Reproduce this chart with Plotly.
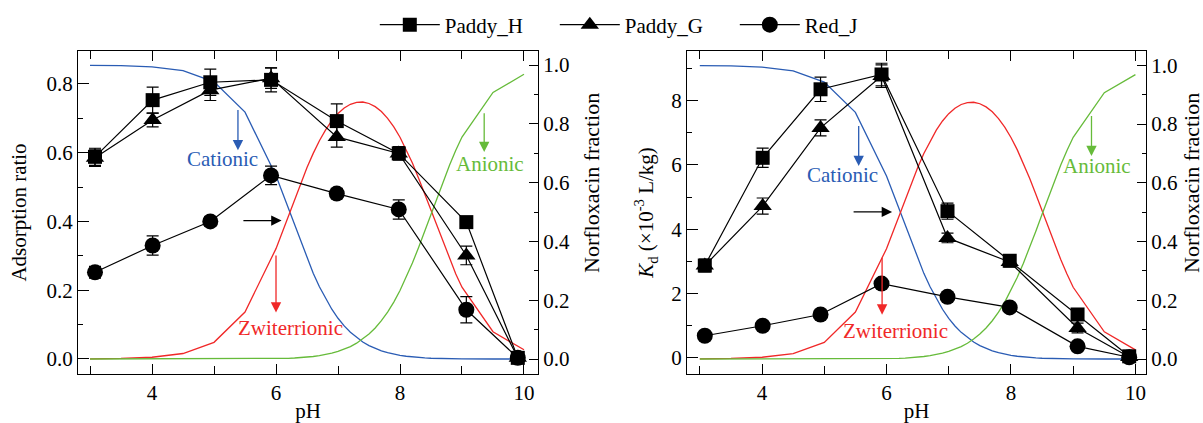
import plotly.graph_objects as go

# ---------------- data ----------------
ph_exp = [3.08, 4.01, 4.94, 5.92, 6.98, 7.98, 9.07, 9.90]

ads_paddy_h = [0.588, 0.753, 0.805, 0.812, 0.692, 0.598, 0.398, 0.003]
ads_paddy_h_err = [0.025, 0.038, 0.038, 0.035, 0.05, 0.015, 0.015, 0.01]
ads_paddy_g = [0.585, 0.695, 0.782, 0.817, 0.646, 0.598, 0.301, 0.003]
ads_paddy_g_err = [0.025, 0.02, 0.03, 0.03, 0.03, 0.02, 0.027, 0.01]
ads_red_j = [0.252, 0.330, 0.400, 0.534, 0.481, 0.435, 0.143, 0.003]
ads_red_j_err = [0.017, 0.028, 0.014, 0.027, 0.015, 0.028, 0.038, 0.01]

kd_paddy_h = [2.87, 6.22, 8.35, 8.81, 4.56, 3.02, 1.35, 0.05]
kd_paddy_h_err = [0.15, 0.3, 0.38, 0.35, 0.25, 0.15, 0.15, 0.05]
kd_paddy_g = [2.87, 4.72, 7.15, 8.76, 3.73, 2.98, 0.93, 0.03]
kd_paddy_g_err = [0.2, 0.25, 0.25, 0.35, 0.15, 0.15, 0.15, 0.05]
kd_red_j = [0.69, 1.00, 1.35, 2.31, 1.90, 1.57, 0.36, 0.02]
kd_red_j_err = [0.05, 0.05, 0.05, 0.1, 0.05, 0.05, 0.05, 0.03]

ph_frac = [3.0, 3.5, 4.0, 4.5, 5.0, 5.5,
           6.0, 6.1, 6.2, 6.3, 6.4, 6.5, 6.6, 6.7, 6.8, 6.9,
           7.0, 7.1, 7.2, 7.3, 7.4, 7.5, 7.6, 7.7, 7.8, 7.9,
           8.0, 8.1, 8.2, 8.3, 8.4, 8.5, 8.6, 8.7, 8.8, 8.9,
           9.0, 9.5, 10.0]
frac_cationic = [0.9994, 0.9981, 0.9940, 0.9813, 0.9432, 0.8400,
                 0.6233, 0.5677, 0.5103, 0.4526, 0.3960, 0.3420, 0.2917, 0.2459, 0.2051, 0.1694,
                 0.1387, 0.1126, 0.0908, 0.0727, 0.0578, 0.0456, 0.0358, 0.0279, 0.0215, 0.0165,
                 0.0125, 0.0094, 0.0070, 0.0051, 0.0037, 0.0026, 0.0019, 0.0013, 0.0009, 0.0006,
                 0.0004, 0.0000, 0.0000]
frac_zwitterionic = [0.0006, 0.0019, 0.0060, 0.0187, 0.0568, 0.1600,
                     0.3756, 0.4306, 0.4873, 0.5441, 0.5994, 0.6516, 0.6997, 0.7426, 0.7797, 0.8107,
                     0.8355, 0.8542, 0.8668, 0.8735, 0.8744, 0.8694, 0.8586, 0.8418, 0.8188, 0.7897,
                     0.7544, 0.7131, 0.6666, 0.6154, 0.5609, 0.5044, 0.4475, 0.3918, 0.3387, 0.2893,
                     0.2444, 0.0928, 0.0313]
frac_anionic = [0.0, 0.0, 0.0, 0.0, 0.0, 0.0002,
                0.0012, 0.0017, 0.0024, 0.0034, 0.0047, 0.0064, 0.0086, 0.0115, 0.0152, 0.0199,
                0.0258, 0.0332, 0.0424, 0.0539, 0.0679, 0.0850, 0.1056, 0.1304, 0.1597, 0.1938,
                0.2331, 0.2774, 0.3265, 0.3795, 0.4354, 0.4929, 0.5506, 0.6069, 0.6604, 0.7101,
                0.7552, 0.9071, 0.9687]

series_names = ["Paddy_H", "Paddy_G", "Red_J"]

# ---------------- style ----------------
FONT = "'Liberation Serif', 'Times New Roman', Times, serif"
FS = 21
BLUE = "#2a5cb4"
RED = "#f02828"
GREEN = "#66bb3a"
symbols = ["square", "triangle-up", "circle"]
msizes = [14, 16, 16]

fig = go.Figure()

# fraction curves (base axes, drawn underneath)
for xr, yr in [("x", "y"), ("x2", "y3")]:
    for vals, col in [(frac_cationic, BLUE), (frac_zwitterionic, RED), (frac_anionic, GREEN)]:
        fig.add_trace(go.Scatter(x=ph_frac, y=vals, mode="lines", line=dict(color=col, width=1.3),
                                 xaxis=xr, yaxis=yr, showlegend=False, hoverinfo="skip"))

left_sets = [(ads_paddy_h, ads_paddy_h_err), (ads_paddy_g, ads_paddy_g_err), (ads_red_j, ads_red_j_err)]
right_sets = [(kd_paddy_h, kd_paddy_h_err), (kd_paddy_g, kd_paddy_g_err), (kd_red_j, kd_red_j_err)]

for i, (vals, err) in enumerate(left_sets):
    fig.add_trace(go.Scatter(
        x=ph_exp, y=vals, mode="lines+markers", name=series_names[i],
        line=dict(color="black", width=1.2),
        marker=dict(symbol=symbols[i], size=msizes[i], color="black"),
        error_y=dict(type="data", array=err, color="black", thickness=1.2, width=6),
        xaxis="x", yaxis="y2", showlegend=True))
for i, (vals, err) in enumerate(right_sets):
    fig.add_trace(go.Scatter(
        x=ph_exp, y=vals, mode="lines+markers", name=series_names[i],
        line=dict(color="black", width=1.2),
        marker=dict(symbol=symbols[i], size=msizes[i], color="black"),
        error_y=dict(type="data", array=err, color="black", thickness=1.2, width=6),
        xaxis="x2", yaxis="y4", showlegend=False))

tickfont = dict(family=FONT, size=FS, color="black")
common = dict(showline=True, linecolor="black", linewidth=1.3, ticks="inside", tickcolor="black",
              tickwidth=1.3, tickfont=tickfont, showgrid=False, zeroline=False, automargin=False)

yd_top = 1 - 51 / 423
yd_bot = 1 - 374 / 423

fig.update_layout(
    width=1203, height=423,
    margin=dict(l=0, r=0, t=0, b=0),
    paper_bgcolor="white", plot_bgcolor="white",
    font=dict(family=FONT, size=FS, color="black"),
    showlegend=True,
    legend=dict(orientation="h", x=0.536, xanchor="center", y=1 - 25 / 423, yanchor="middle",
                font=dict(family=FONT, size=FS, color="black"), itemwidth=60,
                entrywidth=105, bgcolor="rgba(0,0,0,0)", tracegroupgap=0),
    xaxis=dict(domain=[78 / 1203, 538 / 1203], range=[2.806, 10.226], dtick=2, tick0=0,
               ticklen=10, mirror="ticks", anchor="y",
               minor=dict(dtick=1, tick0=0, ticks="inside", ticklen=8, tickcolor="black", tickwidth=1.3),
               title=dict(text="pH", font=tickfont, standoff=11), **common),
    yaxis=dict(domain=[yd_bot, yd_top], range=[-0.051, 1.048], side="right", anchor="x",
               dtick=0.2, tick0=0, tickformat=".1f", ticklen=9,
               minor=dict(dtick=0.1, tick0=0, ticks="inside", ticklen=4, tickcolor="black", tickwidth=1.3),
               **common),
    yaxis2=dict(domain=[yd_bot, yd_top], range=[-0.044, 0.896], side="left", overlaying="y", anchor="x",
                dtick=0.2, tick0=0, tickformat=".1f", ticklen=11,
                minor=dict(dtick=0.1, tick0=0, ticks="inside", ticklen=5, tickcolor="black", tickwidth=1.3),
                title=dict(text="Adsorption ratio", font=tickfont, standoff=14), **common),
    xaxis2=dict(domain=[687 / 1203, 1146 / 1203], range=[2.794, 10.17], dtick=2, tick0=0,
                ticklen=10, mirror="ticks", anchor="y3",
                minor=dict(dtick=1, tick0=0, ticks="inside", ticklen=8, tickcolor="black", tickwidth=1.3),
                title=dict(text="pH", font=tickfont, standoff=11), **common),
    yaxis3=dict(domain=[yd_bot, yd_top], range=[-0.051, 1.049], side="right", anchor="x2",
                dtick=0.2, tick0=0, tickformat=".1f", ticklen=9,
                minor=dict(dtick=0.1, tick0=0, ticks="inside", ticklen=4, tickcolor="black", tickwidth=1.3),
                **common),
    yaxis4=dict(domain=[yd_bot, yd_top], range=[-0.5, 9.54], side="left", overlaying="y3", anchor="x2",
                dtick=2, tick0=0, ticklen=11,
                minor=dict(dtick=1, tick0=0, ticks="inside", ticklen=5, tickcolor="black", tickwidth=1.3),
                title=dict(text="<i>K</i><sub>d</sub> (×10<sup>-3</sup> L/kg)", font=tickfont, standoff=11),
                **common),
)

# right-hand axis titles
for xc in [591 / 1203, 1191 / 1203]:
    fig.add_annotation(x=xc, y=1 - 183 / 423, xref="paper", yref="paper", text="Norfloxacin fraction",
                       textangle=-90, showarrow=False, xanchor="center", yanchor="middle",
                       font=dict(family=FONT, size=22, color="black"))

# ---------------- annotations (arrows + labels) ----------------
def arrow(xr, yr, x0, y0, x1, y1, col):
    fig.add_annotation(x=x1, y=y1, ax=x0, ay=y0, xref=xr, yref=yr, axref=xr, ayref=yr,
                       showarrow=True, arrowhead=2, arrowsize=1.6, arrowwidth=1.3, arrowcolor=col, text="")

def label(xr, yr, x, y, txt, col):
    fig.add_annotation(x=x, y=y, xref=xr, yref=yr, text=txt, showarrow=False,
                       font=dict(family=FONT, size=FS, color=col))

# left panel
arrow("x", "y", 5.45, 0.471, 6.09, 0.471, "black")
arrow("x", "y", 5.386, 0.852, 5.386, 0.710, BLUE)
label("x", "y", 5.132, 0.682, "Cationic", BLUE)
arrow("x", "y", 6.0, 0.357, 6.0, 0.158, RED)
label("x", "y", 6.237, 0.107, "Zwiterrionic", RED)
arrow("x", "y", 9.358, 0.841, 9.358, 0.704, GREEN)
label("x", "y", 9.45, 0.665, "Anionic", GREEN)

# right panel
arrow("x2", "y3", 5.447, 0.501, 6.09, 0.501, "black")
arrow("x2", "y3", 5.553, 0.799, 5.553, 0.657, BLUE)
label("x2", "y3", 5.299, 0.625, "Cationic", BLUE)
arrow("x2", "y3", 5.929, 0.35, 5.929, 0.151, RED)
label("x2", "y3", 6.148, 0.094, "Zwiterrionic", RED)
arrow("x2", "y3", 9.294, 0.833, 9.294, 0.691, GREEN)
label("x2", "y3", 9.386, 0.657, "Anionic", GREEN)

fig.write_html("out.html")
